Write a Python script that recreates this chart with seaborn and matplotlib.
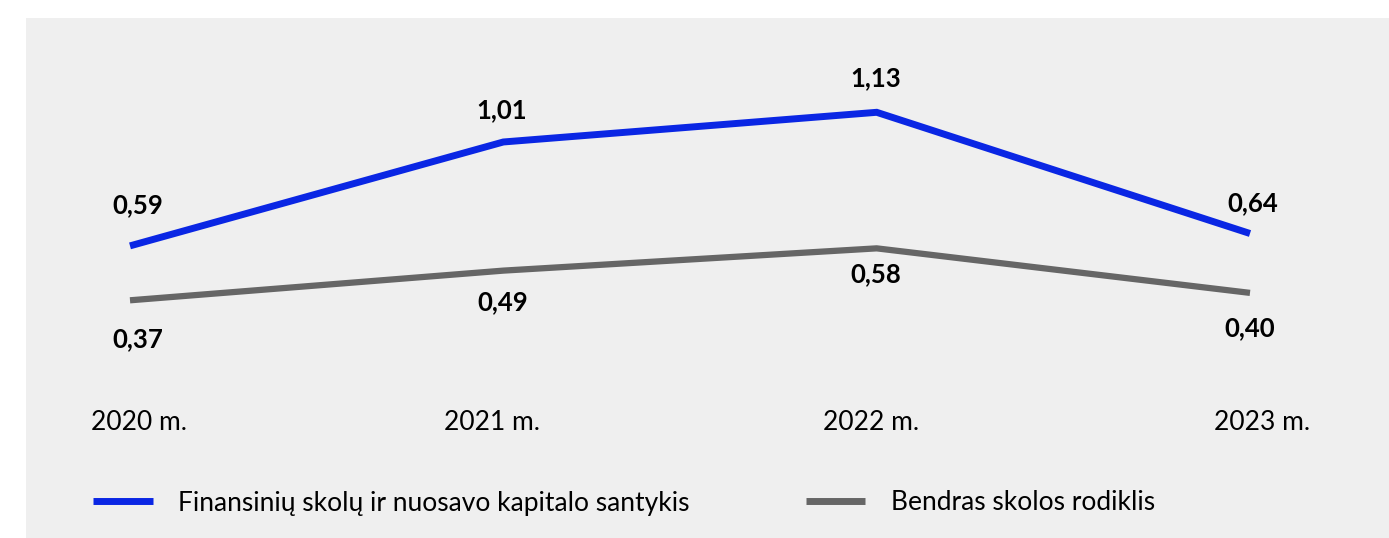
import numpy as np
import pandas as pd
import matplotlib.pyplot as plt
import matplotlib.patches as mpatches
import seaborn as sns

# chart data
years = ['2020 m.', '2021 m.', '2022 m.', '2023 m.']
fin_debt_equity = [0.59, 1.01, 1.13, 0.64]
total_debt = [0.37, 0.49, 0.58, 0.40]
series_names = ['Finansinių skolų ir nuosavo kapitalo santykis', 'Bendras skolos rodiklis']

df = pd.DataFrame({
    'pos': list(range(len(years))) * 2,
    'value': fin_debt_equity + total_debt,
    'series': [series_names[0]] * len(years) + [series_names[1]] * len(years),
})

sns.set_theme(style='white')
plt.rcParams['font.family'] = ['Lato', 'DejaVu Sans']
plt.rcParams['text.color'] = 'black'

W, H = 1389, 538
fig = plt.figure(figsize=(W / 100, H / 100), dpi=100)
fig.patch.set_facecolor('white')

# grey panel behind everything
fig.patches.append(mpatches.Rectangle((26 / W, 0), 1 - 26 / W, 1 - 18 / H,
                                      transform=fig.transFigure, facecolor='#efefef',
                                      edgecolor='none', zorder=-1))

# axes placed so data points land where the reference has them
x0, x1 = 130, 1250
ytop, ybot = 112.3, 300.3
ax = fig.add_axes([x0 / W, 1 - ybot / H, (x1 - x0) / W, (ybot - ytop) / H])
ax.set_facecolor('none')
ax.set_zorder(2)

colors = {series_names[0]: '#0a26e4', series_names[1]: '#666666'}
sns.lineplot(data=df, x='pos', y='value', hue='series', palette=colors, ax=ax,
             linewidth=5, legend=False)
for ln in ax.lines:
    ln.set_solid_capstyle('butt')
    ln.set_solid_joinstyle('miter')
    ln.set_clip_on(False)
ax.lines[1].set_linewidth(4.5)

ax.set_xlim(0, 3)
ax.set_ylim(0.37, 1.13)
ax.set_xticks([])
ax.set_yticks([])
ax.set_xlabel('')
ax.set_ylabel('')
for s in ax.spines.values():
    s.set_visible(False)

# value labels (offsets in px -> points, baseline anchored)
pt = 0.72
up_dx = [8, -2, -1, 3]
up_dy = [33, 24, 26, 22.5]
down_dx = [8, -1, -1, 0]
down_dy = [47, 39.5, 33.5, 43]
for i, v in enumerate(fin_debt_equity):
    ax.annotate(f'{v:.2f}'.replace('.', ','), (i, v), xytext=(up_dx[i] * pt, up_dy[i] * pt),
                textcoords='offset points', ha='center', va='baseline',
                fontsize=18.5, fontweight='bold', color='black', annotation_clip=False)
for i, v in enumerate(total_debt):
    ax.annotate(f'{v:.2f}'.replace('.', ','), (i, v), xytext=(down_dx[i] * pt, -down_dy[i] * pt),
                textcoords='offset points', ha='center', va='baseline',
                fontsize=18.5, fontweight='bold', color='black', annotation_clip=False)

# year labels
tick_x = [139, 492, 871, 1262]
for tx, lab in zip(tick_x, years):
    fig.text(tx / W, 1 - 430 / H, lab, ha='center', va='baseline', fontsize=19, color='black')

# legend
handles = [plt.Line2D([], [], color=colors[n], linewidth=5, solid_capstyle='butt') for n in series_names]
leg = fig.legend(handles, series_names, loc='center left', bbox_to_anchor=(93 / W, 1 - 503 / H),
                 ncol=2, frameon=False, fontsize=19, handlelength=2.27, handletextpad=0.95,
                 columnspacing=4.4, borderpad=0, borderaxespad=0)
for t in leg.get_texts():
    t.set_color('black')

fig.savefig('out.png', dpi=100)
